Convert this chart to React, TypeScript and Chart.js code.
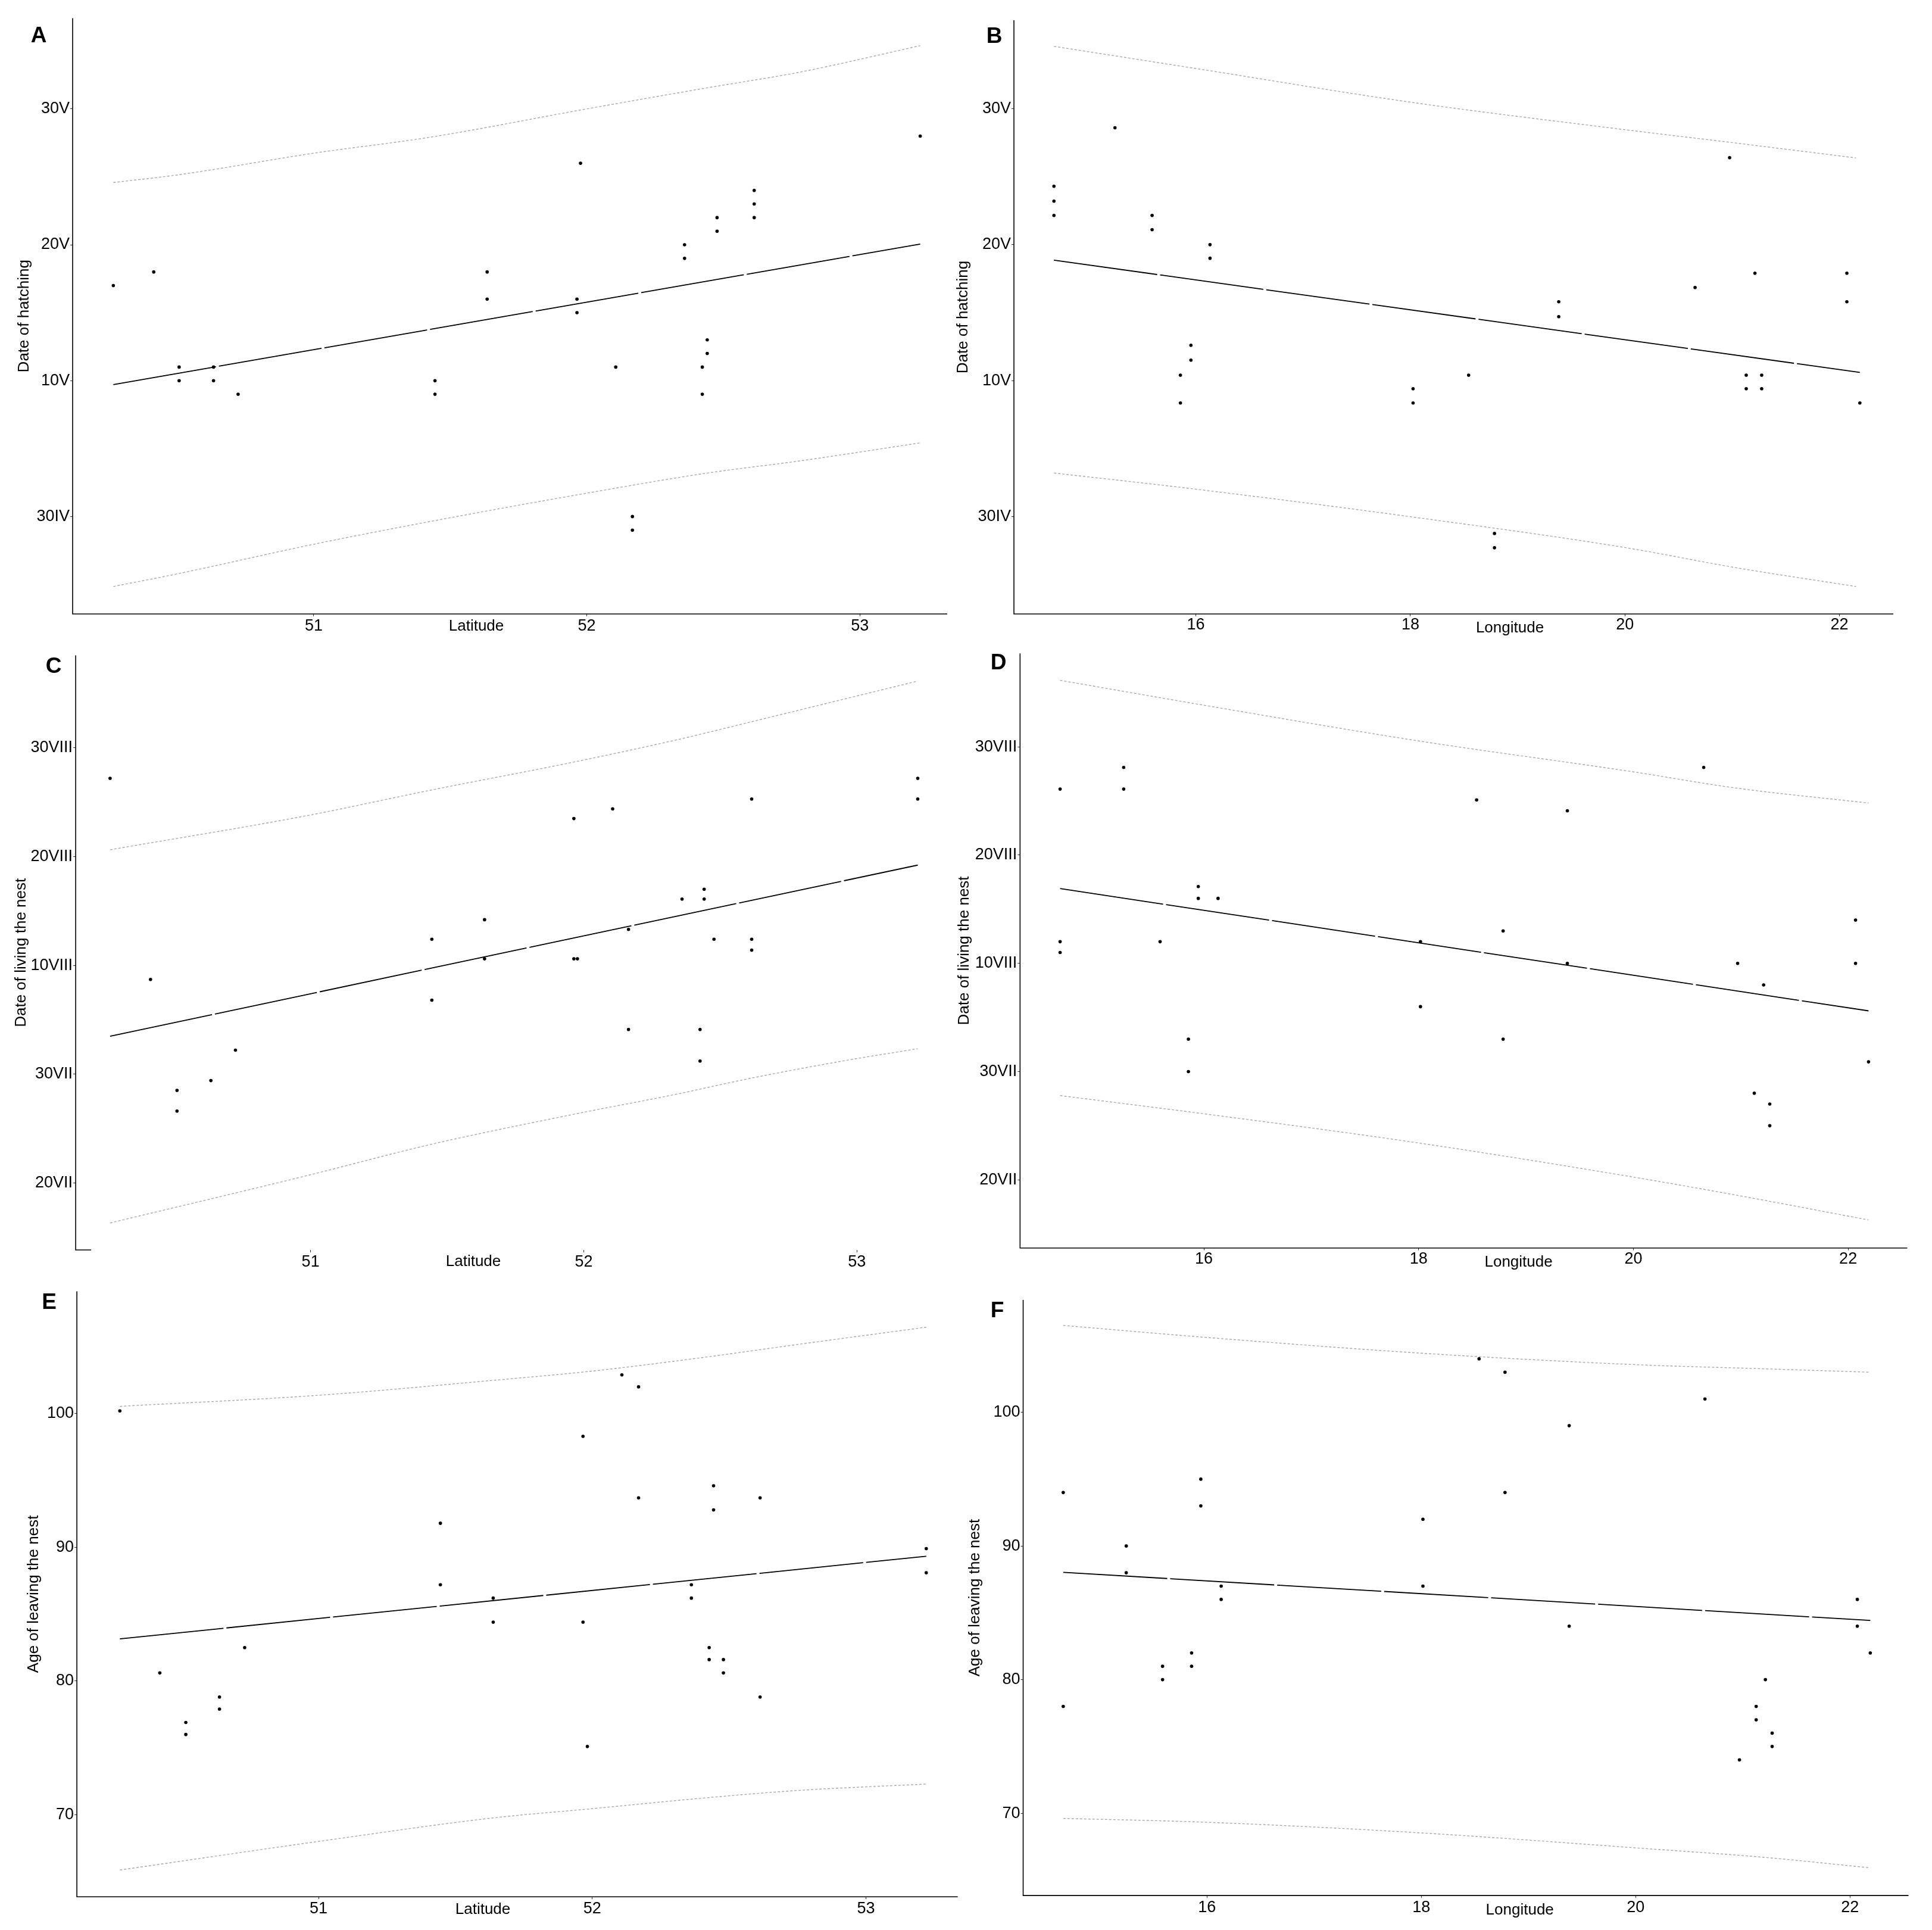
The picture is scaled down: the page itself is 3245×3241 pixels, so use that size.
import React, { useEffect, useRef } from 'react';
import { Chart, registerables } from 'chart.js';

Chart.register(...registerables);

const FONT = "'Liberation Sans', Arial, Helvetica, sans-serif";

// ---------- tick values / labels ----------
const latTicks = [51, 52, 53];
const lonTicks = [16, 18, 20, 22];
// hatching dates: days after 30 April
const hatchTicks = [0, 10, 20, 30];
const hatchTickLabels = ['30IV', '10V', '20V', '30V'];
// leaving dates: 20 July = 0, ticks every 10 units
const leaveTicks = [0, 10, 20, 30, 40];
const leaveTickLabels = ['20VII', '30VII', '10VIII', '20VIII', '30VIII'];
const ageTicks = [70, 80, 90, 100];
const ageTickLabels = ['70', '80', '90', '100'];

// ---------- Panel A: latitude vs date of hatching ----------
const aLat = [50.266, 50.414, 50.507, 50.507, 50.633, 50.633, 50.723, 51.444, 51.444, 51.635, 51.635, 51.977, 51.964, 51.964, 52.106, 52.167, 52.167, 52.358, 52.358, 52.441, 52.441, 52.423, 52.423, 52.477, 52.477, 52.613, 52.613, 52.613, 53.221];
const aHatch = [17, 18, 11, 10, 11, 10, 9, 10, 9, 18, 16, 26, 16, 15, 11, 0, -1, 20, 19, 13, 12, 11, 9, 22, 21, 24, 23, 22, 28];
const aFitLat = [50.266, 53.221];
const aFit = [9.71, 20.05];
const aBandLat = [50.266, 50.505, 51.0, 51.428, 52.0, 52.441, 52.779, 53.221];
const aUpper = [24.58, 25.15, 26.74, 27.92, 30.0, 31.55, 32.7, 34.65];
const aLower = [-5.15, -4.2, -2.04, -0.36, 1.72, 3.2, 4.09, 5.42];

// ---------- Panel B: longitude vs date of hatching ----------
const bLon = [14.677, 14.677, 14.677, 15.246, 15.592, 15.592, 16.132, 16.132, 15.856, 15.856, 15.954, 15.954, 18.025, 18.025, 18.543, 18.784, 18.784, 19.383, 19.383, 20.654, 20.976, 21.131, 21.131, 21.275, 21.275, 21.212, 22.069, 22.069, 22.19];
const bHatch = [24.3, 23.2, 22.15, 28.6, 22.15, 21.1, 20.0, 19.0, 10.4, 8.35, 12.6, 11.5, 9.4, 8.35, 10.4, -1.25, -2.3, 15.8, 14.7, 16.85, 26.4, 10.4, 9.4, 10.4, 9.4, 17.9, 17.9, 15.8, 8.35];
const bFitLon = [14.677, 22.19];
const bFit = [18.86, 10.6];
const bBandLon = [14.677, 16.0, 17.985, 19.998, 21.03, 22.155];
const bUpper = [34.59, 32.96, 30.5, 28.46, 27.48, 26.38];
const bLower = [3.2, 2.01, 0.0, -2.28, -3.76, -5.15];

// ---------- Panel C: latitude vs date of leaving ----------
const cLat = [50.266, 50.414, 50.511, 50.511, 50.635, 50.725, 51.444, 51.444, 51.637, 51.637, 51.964, 51.964, 51.977, 52.106, 52.164, 52.164, 52.36, 52.441, 52.441, 52.426, 52.426, 52.477, 52.615, 52.615, 52.615, 53.223, 53.223];
const cLeave = [37.2, 18.7, 8.5, 6.6, 9.4, 12.2, 22.4, 16.8, 24.2, 20.6, 33.5, 20.6, 20.6, 34.4, 23.3, 14.1, 26.1, 27.0, 26.1, 14.1, 11.2, 22.4, 35.3, 22.4, 21.4, 37.2, 35.3];
const cFitLat = [50.266, 53.223];
const cFit = [13.48, 29.22];
const cBandLat = [50.266, 50.989, 51.439, 51.964, 52.34, 52.615, 52.971, 53.223];
const cUpper = [30.63, 33.78, 36.11, 38.7, 40.74, 42.41, 44.6, 46.15];
const cLower = [-3.7, 0.67, 3.52, 6.3, 8.15, 9.63, 11.3, 12.33];

// ---------- Panel D: longitude vs date of leaving ----------
const dLon = [14.661, 14.661, 14.661, 15.253, 15.253, 15.592, 15.948, 15.948, 16.132, 15.856, 15.856, 18.017, 18.017, 18.54, 18.787, 18.787, 19.385, 19.385, 20.655, 20.971, 21.126, 21.213, 21.27, 21.27, 22.069, 22.069, 22.19];
const dLeave = [36.1, 22.0, 21.0, 38.1, 36.1, 22.0, 27.1, 26.0, 26.0, 13.0, 10.0, 22.0, 16.0, 35.1, 23.0, 13.0, 34.1, 20.0, 38.1, 20.0, 8.0, 18.0, 7.0, 5.0, 24.0, 20.0, 10.9];
const dFitLon = [14.661, 22.19];
const dFit = [26.91, 15.61];
const dBandLon = [14.661, 16.0, 17.994, 19.994, 20.954, 22.19];
const dUpper = [46.15, 43.85, 40.56, 37.7, 36.2, 34.81];
const dLower = [7.78, 6.1, 3.41, 0.26, -1.41, -3.71];

// ---------- Panel E: latitude vs age of leaving ----------
const eLat = [50.274, 50.42, 50.515, 50.515, 50.638, 50.638, 50.73, 51.445, 51.445, 51.638, 51.638, 51.966, 51.966, 51.982, 52.108, 52.169, 52.169, 52.362, 52.362, 52.427, 52.427, 52.443, 52.443, 52.479, 52.479, 52.613, 52.613, 53.22, 53.22];
const eAge = [100.2, 80.6, 76.9, 76.0, 78.8, 77.9, 82.5, 91.8, 87.2, 86.2, 84.4, 98.3, 84.4, 75.1, 102.9, 102.0, 93.7, 87.2, 86.2, 82.5, 81.6, 94.6, 92.8, 81.6, 80.6, 93.7, 78.8, 89.9, 88.1];
const eFitLat = [50.274, 53.22];
const eFit = [83.15, 89.33];
const eBandLat = [50.274, 51.0, 51.634, 52.0, 52.42, 52.757, 53.22];
const eUpper = [100.54, 101.37, 102.48, 103.18, 104.24, 105.19, 106.46];
const eLower = [65.86, 68.0, 69.75, 70.45, 71.27, 71.82, 72.29];

// ---------- Panel F: longitude vs age of leaving ----------
const fLon = [14.658, 14.658, 15.246, 15.246, 15.585, 15.585, 15.856, 15.856, 15.942, 15.942, 16.132, 16.132, 18.015, 18.015, 18.539, 18.781, 18.781, 19.38, 19.38, 20.647, 20.969, 21.125, 21.125, 21.211, 21.274, 21.274, 22.069, 22.069, 22.19];
const fAge = [94, 78, 90, 88, 81, 80, 82, 81, 95, 93, 87, 86, 92, 87, 104, 103, 94, 99, 84, 101, 74, 78, 77, 80, 76, 75, 86, 84, 82];
const fFitLon = [14.658, 22.19];
const fFit = [88.03, 84.43];
const fBandLon = [14.658, 16.0, 17.987, 19.99, 21.222, 22.19];
const fUpper = [106.5, 105.6, 104.43, 103.57, 103.25, 103.0];
const fLower = [69.62, 69.33, 68.54, 67.42, 66.69, 65.92];

type PanelCfg = {
  letter: string; xTitle: string; yTitle: string;
  x: number[]; y: number[]; fitX: number[]; fitY: number[];
  bandX: number[]; upper: number[]; lower: number[];
  xTicks: number[]; yTicks: number[]; yTickLabels: string[];
  xMin: number; xMax: number; yMin: number; yMax: number;
  left: number; top: number; w: number; h: number;
  padTop: number; padRight: number; yAxisW: number; xAxisH: number; yTitlePad: number;
  letterX: number; letterY: number; xTitleX: number; xTitleDy: number; xTickPad: number;
  xLineFrom: number; xLineLen: number;
};

const panels: PanelCfg[] = [
  {
    letter: 'A', xTitle: 'Latitude', yTitle: 'Date of hatching',
    x: aLat, y: aHatch, fitX: aFitLat, fitY: aFit, bandX: aBandLat, upper: aUpper, lower: aLower,
    xTicks: latTicks, yTicks: hatchTicks, yTickLabels: hatchTickLabels,
    xMin: 50.117, xMax: 53.32, yMin: -7.17, yMax: 36.68,
    left: 0, top: 0, w: 1600, h: 1080, padTop: 30.4, padRight: 9, yAxisW: 122, xAxisH: 49, yTitlePad: 25.4,
    letterX: 65, letterY: 61, xTitleX: 800, xTitleDy: 20.7, xTickPad: 0.5, xLineFrom: 0, xLineLen: -1,
  },
  {
    letter: 'B', xTitle: 'Longitude', yTitle: 'Date of hatching',
    x: bLon, y: bHatch, fitX: bFitLon, fitY: bFit, bandX: bBandLon, upper: bUpper, lower: bLower,
    xTicks: lonTicks, yTicks: hatchTicks, yTickLabels: hatchTickLabels,
    xMin: 14.304, xMax: 22.502, yMin: -7.17, yMax: 36.51,
    left: 1600, top: 0, w: 1645, h: 1080, padTop: 34, padRight: 65, yAxisW: 103, xAxisH: 49, yTitlePad: 2.4,
    letterX: 70, letterY: 62, xTitleX: 936, xTitleDy: 24, xTickPad: -1.7, xLineFrom: 0, xLineLen: -1,
  },
  {
    letter: 'C', xTitle: 'Latitude', yTitle: 'Date of living the nest',
    x: cLat, y: cLeave, fitX: cFitLat, fitY: cFit, bandX: cBandLat, upper: cUpper, lower: cLower,
    xTicks: latTicks, yTicks: leaveTicks, yTickLabels: leaveTickLabels,
    xMin: 50.14, xMax: 53.331, yMin: -6.18, yMax: 48.51,
    left: 0, top: 1080, w: 1600, h: 1070, padTop: 20.6, padRight: 9, yAxisW: 127.1, xAxisH: 51, yTitlePad: 20.4,
    letterX: 90, letterY: 39.5, xTitleX: 795, xTitleDy: 20, xTickPad: 0, xLineFrom: 0, xLineLen: 26,
  },
  {
    letter: 'D', xTitle: 'Longitude', yTitle: 'Date of living the nest',
    x: dLon, y: dLeave, fitX: dFitLon, fitY: dFit, bandX: dBandLon, upper: dUpper, lower: dLower,
    xTicks: lonTicks, yTicks: leaveTicks, yTickLabels: leaveTickLabels,
    xMin: 14.288, xMax: 22.551, yMin: -6.3, yMax: 48.64,
    left: 1600, top: 1080, w: 1645, h: 1070, padTop: 13.8, padRight: 41.5, yAxisW: 113.3, xAxisH: 54.3, yTitlePad: 4.4,
    letterX: 77, letterY: 34, xTitleX: 950.6, xTitleDy: 24, xTickPad: -1.2, xLineFrom: 0, xLineLen: -1,
  },
  {
    letter: 'E', xTitle: 'Latitude', yTitle: 'Age of leaving the nest',
    x: eLat, y: eAge, fitX: eFitLat, fitY: eFit, bandX: eBandLat, upper: eUpper, lower: eLower,
    xTicks: latTicks, yTicks: ageTicks, yTickLabels: ageTickLabels,
    xMin: 50.117, xMax: 53.335, yMin: 63.86, yMax: 109.14,
    left: 0, top: 2150, w: 1620, h: 1091, padTop: 18.6, padRight: 11.4, yAxisW: 129.1, xAxisH: 55.8, yTitlePad: 41.4,
    letterX: 82.6, letterY: 38, xTitleX: 811, xTitleDy: 21.5, xTickPad: -0.3, xLineFrom: 0, xLineLen: -1,
  },
  {
    letter: 'F', xTitle: 'Longitude', yTitle: 'Age of leaving the nest',
    x: fLon, y: fAge, fitX: fFitLon, fitY: fFit, bandX: fBandLon, upper: fUpper, lower: fLower,
    xTicks: lonTicks, yTicks: ageTicks, yTickLabels: ageTickLabels,
    xMin: 14.284, xMax: 22.547, yMin: 63.85, yMax: 108.41,
    left: 1600, top: 2150, w: 1645, h: 1091, padTop: 32.9, padRight: 39.4, yAxisW: 118.5, xAxisH: 57.9, yTitlePad: 22,
    letterX: 75, letterY: 52, xTitleX: 952.7, xTitleDy: 25, xTickPad: -0.2, xLineFrom: 0, xLineLen: -1,
  },
];

const decorPlugin = {
  id: 'panelDecor',
  afterDraw(chart: any, _args: any, opts: any) {
    const { ctx, chartArea } = chart;
    ctx.save();
    ctx.strokeStyle = '#000';
    ctx.lineWidth = 1.6;
    ctx.beginPath();
    ctx.moveTo(chartArea.left, chartArea.top);
    ctx.lineTo(chartArea.left, chartArea.bottom);
    const x0 = chartArea.left + opts.xLineFrom;
    const x1 = opts.xLineLen > 0 ? chartArea.left + opts.xLineLen : chartArea.right;
    ctx.moveTo(x0 - 0.8, chartArea.bottom);
    ctx.lineTo(x1, chartArea.bottom);
    ctx.stroke();
    ctx.fillStyle = '#000';
    ctx.textAlign = 'center';
    ctx.textBaseline = 'middle';
    ctx.font = `bold 37px ${FONT}`;
    ctx.fillText(opts.letter, opts.letterX, opts.letterY);
    ctx.font = `26px ${FONT}`;
    ctx.fillText(opts.xTitle, opts.xTitleX, chartArea.bottom + opts.xTitleDy);
    ctx.restore();
  },
};

function Panel({ p }: { p: PanelCfg }) {
  const ref = useRef<HTMLCanvasElement>(null);
  useEffect(() => {
    if (!ref.current) return;
    const toPts = (xs: number[], ys: number[]) => xs.map((x, i) => ({ x, y: ys[i] }));
    const chart = new Chart(ref.current, {
      type: 'scatter',
      data: {
        datasets: [
          {
            data: toPts(p.x, p.y),
            pointRadius: 2.8,
            pointHoverRadius: 2.8,
            backgroundColor: '#000',
            borderColor: '#000',
            borderWidth: 0,
          },
          {
            data: toPts(p.fitX, p.fitY),
            showLine: true,
            borderColor: '#000',
            borderWidth: 1.8,
            borderDash: [175, 5],
            pointRadius: 0,
            fill: false,
          },
          {
            data: toPts(p.bandX, p.upper),
            showLine: true,
            borderColor: '#aaaaaa',
            borderWidth: 1.4,
            borderDash: [4, 3],
            pointRadius: 0,
            cubicInterpolationMode: 'monotone',
            fill: false,
          },
          {
            data: toPts(p.bandX, p.lower),
            showLine: true,
            borderColor: '#aaaaaa',
            borderWidth: 1.4,
            borderDash: [4, 3],
            pointRadius: 0,
            cubicInterpolationMode: 'monotone',
            fill: false,
          },
        ] as any,
      },
      options: {
        responsive: false,
        animation: false,
        events: [],
        layout: { padding: { top: p.padTop, right: p.padRight, left: 0, bottom: 0 } },
        plugins: {
          legend: { display: false },
          tooltip: { enabled: false },
          panelDecor: {
            letter: p.letter, letterX: p.letterX, letterY: p.letterY,
            xTitle: p.xTitle, xTitleX: p.xTitleX, xTitleDy: p.xTitleDy,
            xLineFrom: p.xLineFrom, xLineLen: p.xLineLen,
          },
        } as any,
        scales: {
          x: {
            type: 'linear',
            min: p.xMin,
            max: p.xMax,
            afterFit: (s: any) => { s.height = p.xAxisH; },
            afterBuildTicks: (s: any) => { s.ticks = p.xTicks.map((v) => ({ value: v })); },
            ticks: {
              font: { family: FONT, size: 27 },
              color: '#000',
              padding: p.xTickPad,
              maxRotation: 0,
              autoSkip: false,
              callback: (v: any) => String(v),
            },
            grid: { display: true, drawOnChartArea: false, drawTicks: true, tickLength: 4, color: '#333', lineWidth: 1 },
            border: { display: false },
            title: { display: false },
          },
          y: {
            type: 'linear',
            min: p.yMin,
            max: p.yMax,
            afterFit: (s: any) => { s.width = p.yAxisW; },
            afterBuildTicks: (s: any) => { s.ticks = p.yTicks.map((v) => ({ value: v })); },
            ticks: {
              font: { family: FONT, size: 27 },
              color: '#000',
              padding: 1,
              autoSkip: false,
              callback: (v: any) => {
                const i = p.yTicks.indexOf(Number(v));
                return i >= 0 ? p.yTickLabels[i] : '';
              },
            },
            grid: { display: true, drawOnChartArea: false, drawTicks: true, tickLength: 4, color: '#333', lineWidth: 1 },
            border: { display: false },
            title: {
              display: true,
              text: p.yTitle,
              color: '#000',
              font: { family: FONT, size: 26 },
              padding: { top: p.yTitlePad, bottom: 0 },
            },
          },
        },
      } as any,
      plugins: [decorPlugin as any],
    });
    return () => chart.destroy();
  }, [p]);
  return (
    <canvas
      ref={ref}
      width={p.w}
      height={p.h}
      style={{ position: 'absolute', left: p.left, top: p.top, width: p.w, height: p.h }}
    />
  );
}

export default function App() {
  return (
    <div style={{ position: 'absolute', left: 0, top: 0, width: 3245, height: 3241, background: '#fff', overflow: 'hidden' }}>
      {panels.map((p) => (
        <Panel key={p.letter} p={p} />
      ))}
    </div>
  );
}
